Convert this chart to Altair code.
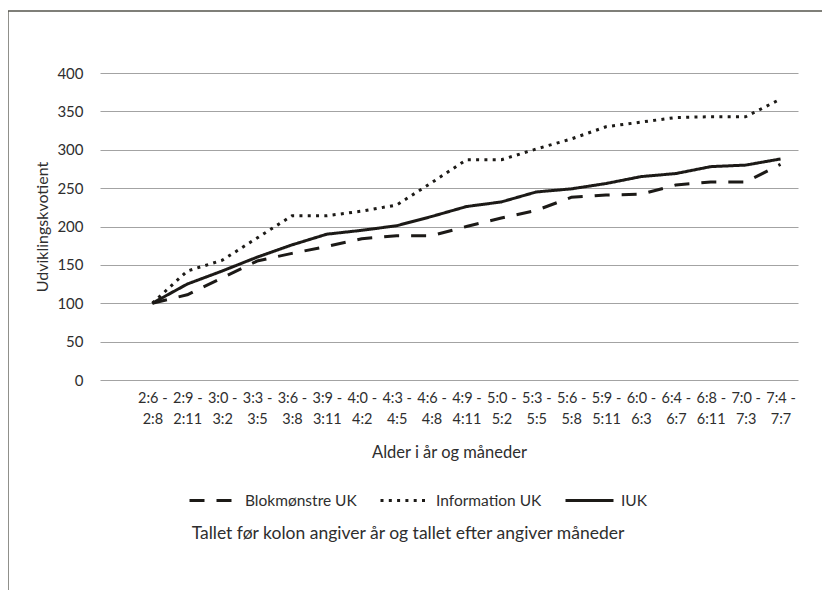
import altair as alt
import pandas as pd

categories = ["2:6 - 2:8", "2:9 - 2:11", "3:0 - 3:2", "3:3 - 3:5", "3:6 - 3:8",
              "3:9 - 3:11", "4:0 - 4:2", "4:3 - 4:5", "4:6 - 4:8", "4:9 - 4:11",
              "5:0 - 5:2", "5:3 - 5:5", "5:6 - 5:8", "5:9 - 5:11", "6:0 - 6:3",
              "6:4 - 6:7", "6:8 - 6:11", "7:0 - 7:3", "7:4 - 7:7"]
blokmoenstre = [100, 111, 133, 155, 165, 174, 184, 188, 188, 200, 211, 221, 238, 241, 242, 254, 258, 258, 281]
information = [100, 142, 156, 185, 214, 214, 220, 228, 257, 287, 287, 301, 314, 330, 336, 342, 343, 343, 366]
iuk = [100, 125, 142, 160, 176, 190, 195, 201, 213, 226, 232, 245, 249, 256, 265, 269, 278, 280, 288]
series_names = ["Blokmønstre UK", "Information UK", "IUK"]
y_ticks = [0, 50, 100, 150, 200, 250, 300, 350, 400]
note = "Tallet før kolon angiver år og tallet efter angiver måneder"

rows = []
for name, vals in zip(series_names, [blokmoenstre, information, iuk]):
    for c, v in zip(categories, vals):
        rows.append({"Alder": c, "Serie": name, "UK": v})
df = pd.DataFrame(rows)

FONT = "Lato"
TXT = "#2e2e2e"
INK = "#1c1a17"

x_domain = [""] + categories

lines = alt.Chart(df).mark_line(strokeWidth=3, color=INK, strokeJoin="round").encode(
    x=alt.X("Alder:N", sort=None,
            scale=alt.Scale(domain=x_domain, type="point", padding=0.5),
            axis=alt.Axis(title="Alder i år og måneder", labelAngle=0,
                          labelExpr="datum.value == '' ? '' : [split(datum.value, ' - ')[0] + ' -', split(datum.value, ' - ')[1]]",
                          ticks=False, domain=False, grid=False, labelPadding=11,
                          labelLineHeight=21, titlePadding=19, labelFontSize=14.5,
                          titleFontSize=16.5, labelColor=TXT, titleColor=TXT,
                          labelFont=FONT, titleFont=FONT, titleFontWeight="normal")),
    y=alt.Y("UK:Q", scale=alt.Scale(domain=[0, 400]),
            axis=alt.Axis(title="Udviklingskvotient", values=y_ticks, ticks=False,
                          domain=False, grid=True, gridColor="#a3a3a3", gridWidth=1.2,
                          labelPadding=17, titlePadding=6, labelFontSize=15,
                          titleFontSize=16, labelColor=TXT, titleColor=TXT,
                          labelFont=FONT, titleFont=FONT, titleFontWeight="normal")),
    strokeDash=alt.StrokeDash("Serie:N",
        scale=alt.Scale(domain=series_names, range=[[15, 12], [3, 5.3], [1, 0]]),
        legend=alt.Legend(title=None, orient="none", direction="horizontal",
                          legendX=88, legendY=402, symbolType="stroke",
                          symbolSize=2304, symbolStrokeWidth=3, gridAlign="none",
                          symbolStrokeColor=INK, labelFont=FONT, labelFontSize=15.5,
                          labelColor=TXT, labelOffset=6, columnPadding=17)),
)

frame = alt.Chart(pd.DataFrame({"k": [0]})).mark_rect(
    fill=None, stroke="#55554d", strokeWidth=1.3
).encode(x=alt.value(-92), x2=alt.value(800), y=alt.value(-62), y2=alt.value(600))

footnote = alt.Chart(pd.DataFrame({"t": [note]})).mark_text(
    font=FONT, fontSize=17.5, color=TXT, align="center", baseline="middle"
).encode(text="t:N", x=alt.value(308), y=alt.value(461))

chart = alt.layer(frame, lines, footnote).properties(
    width=698, height=307,
    autosize=alt.AutoSizeParams(type="none"),
    padding={"left": 92, "top": 65, "right": 24, "bottom": 210},
).configure_view(stroke=None)

chart.save("out.html", embed_options={"renderer": "svg", "actions": False})
